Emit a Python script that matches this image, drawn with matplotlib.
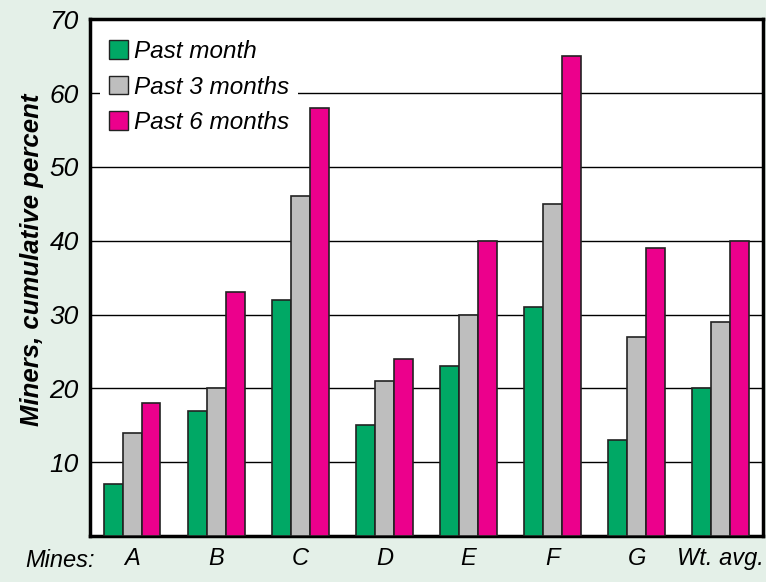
import numpy as np
import matplotlib.pyplot as plt
from matplotlib.patches import Patch

mines = ["A", "B", "C", "D", "E", "F", "G", "Wt. avg."]
past_month = [7, 17, 32, 15, 23, 31, 13, 20]
past_3_months = [14, 20, 46, 21, 30, 45, 27, 29]
past_6_months = [18, 33, 58, 24, 40, 65, 39, 40]
series_names = ["Past month", "Past 3 months", "Past 6 months"]
colors = ["#00a865", "#bebebe", "#ec008c"]

plt.rcParams["font.family"] = ["Liberation Sans", "DejaVu Sans"]

fig = plt.figure(figsize=(7.66, 5.82), dpi=100, facecolor="#e4f0e8")
ax = fig.add_axes([0.1175, 0.079, 0.8785, 0.888])

x = np.arange(len(mines))
w = 0.225
for i, (vals, c) in enumerate(zip([past_month, past_3_months, past_6_months], colors)):
    ax.bar(x + (i - 1) * w, vals, width=w, color=c, edgecolor="#222222",
           linewidth=1.2, zorder=3)

ax.set_xlim(-0.5, len(mines) - 0.5)
ax.set_ylim(0, 70)
ax.set_yticks(range(10, 80, 10))
ax.set_yticklabels([str(v) for v in range(10, 80, 10)], fontsize=19, style="italic")
ax.yaxis.grid(True, color="black", linewidth=1.0, zorder=0)
ax.set_axisbelow(True)
ax.tick_params(axis="both", length=0, pad=8)
ax.set_xticks(x)
ax.set_xticklabels(mines, fontsize=17, style="italic")
for s in ax.spines.values():
    s.set_linewidth(2.5)

ax.set_ylabel("Miners, cumulative percent", fontsize=18.5, style="italic",
              fontweight="bold")
ax.yaxis.set_label_coords(-0.068, 0.534)
fig.text(0.078, 0.037, "Mines:", fontsize=17, style="italic", ha="center", va="center")

handles = [Patch(facecolor=c, edgecolor="#222222", linewidth=1.0) for c in colors]
leg = ax.legend(handles, series_names, loc="upper left", bbox_to_anchor=(-0.003, 1.0),
                prop={"style": "italic", "size": 17.5},
                frameon=True, facecolor="white", edgecolor="none", framealpha=1,
                fancybox=False, handlelength=0.8, handleheight=0.8,
                handletextpad=0.25, labelspacing=0.52, borderpad=0.35)
leg.set_zorder(5)

fig.savefig("out.png", dpi=100, facecolor=fig.get_facecolor())
